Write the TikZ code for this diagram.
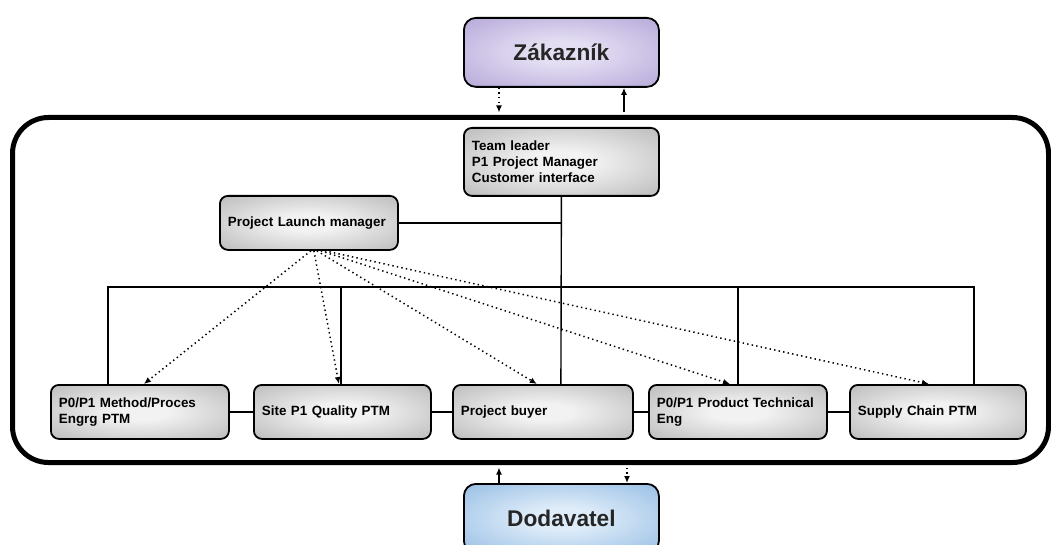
\documentclass[tikz,border=0pt]{standalone}
\usepackage{fontspec}
\setmainfont{Liberation Sans}
\usetikzlibrary{arrows.meta,calc}
\definecolor{gin}{HTML}{F2F2F2}
\definecolor{gout}{HTML}{A0A0A0}
\definecolor{gdark}{HTML}{808080}
\definecolor{pin}{HTML}{E4DEF3}
\definecolor{pout}{HTML}{9E8DCC}
\definecolor{pdark}{HTML}{8A77BE}
\definecolor{bin}{HTML}{DEECF9}
\definecolor{bout}{HTML}{74A7DA}
\definecolor{bdark}{HTML}{5A8FCB}
\pgfdeclareradialshading{grayshade}{\pgfpoint{0bp}{0bp}}{color(0bp)=(gin); color(8bp)=(gin); color(50bp)=(gout); color(75bp)=(gdark)}
\pgfdeclareradialshading{purpshade}{\pgfpoint{0bp}{0bp}}{color(0bp)=(pin); color(8bp)=(pin); color(50bp)=(pout); color(75bp)=(pdark)}
\pgfdeclareradialshading{blueshade}{\pgfpoint{0bp}{0bp}}{color(0bp)=(bin); color(8bp)=(bin); color(50bp)=(bout); color(75bp)=(bdark)}
\tikzset{
  gbox/.style={draw=black, line width=1.8pt, rounded corners=8pt, shading=grayshade,
    anchor=north west, inner xsep=8pt, inner ysep=0pt, align=left,
    font=\fontsize{13.4}{16}\selectfont\bfseries},
  bigbox/.style={draw=black, line width=1.8pt, rounded corners=12pt, anchor=north west,
    minimum width=195, minimum height=69, font=\fontsize{22.7}{26}\selectfont\bfseries, text=black!85},
  frame/.style={draw=black, line width=5pt, rounded corners=36pt, anchor=north west},
  conn/.style={draw=black, line width=1.4pt},
  dotarrow/.style={draw=black, line width=1.5pt, dash pattern=on 1.4pt off 3.2pt, -{Latex[length=7pt,width=6pt]}},
  solarrow/.style={draw=black, line width=1.4pt, -{Latex[length=7pt,width=6pt]}}
}
\begin{document}
\begin{tikzpicture}[x=1pt,y=-1pt]
\useasboundingbox (0,0) rectangle (1051,545);
\clip (0,0) rectangle (1051,545);
% outer frame
\node[frame, minimum width=1036, minimum height=345] (frame) at (10,115) {};
% customer and supplier
\node[bigbox, shading=purpshade] (zak) at (463,17) {Zákazník};
\node[bigbox, shading=blueshade] (dod) at (463,483) {Dodavatel};
% team leader
\node[gbox, minimum width=195, minimum height=68, text width=179] (tl) at (463,127)
  {Team leader\\P1 Project Manager\\Customer interface};
\node[gbox, minimum width=178, minimum height=54, text width=162] (plm) at (219,195)
  {Project Launch manager};
% bottom row
\node[gbox, minimum width=178, minimum height=54, text width=162] (b1) at (50,384)
  {P0/P1 Method/Proces\\Engrg PTM};
\node[gbox, minimum width=177, minimum height=54, text width=161] (b2) at (253,384)
  {Site P1 Quality PTM};
\node[gbox, minimum width=180, minimum height=54, text width=164] (b3) at (452,384)
  {Project buyer};
\node[gbox, minimum width=178, minimum height=54, text width=162] (b4) at (648,384)
  {P0/P1 Product Technical\\Eng};
\node[gbox, minimum width=176, minimum height=54, text width=160] (b5) at (849,384)
  {Supply Chain PTM};
% arrows between frame and customer/supplier
\coordinate (xa) at (499,0);
\coordinate (xb) at (624,0);
\coordinate (xc) at (627,0);
\draw[dotarrow] (zak.south -| xa) -- ([yshift=2.5pt]frame.north -| xa);
\draw[solarrow] ([yshift=2.5pt]frame.north -| xb) -- (zak.south -| xb);
\draw[solarrow] (dod.north -| xa) -- ([yshift=-2.5pt]frame.south -| xa);
\draw[dotarrow] ([yshift=-2.5pt]frame.south -| xc) -- (dod.north -| xc);
% horizontal links between bottom boxes
\draw[conn] (b1.east) -- (b2.west);
\draw[conn] (b2.east) -- (b3.west);
\draw[conn] (b3.east) -- (b4.west);
\draw[conn] (b4.east) -- (b5.west);
% team leader to project buyer, launch manager link
\coordinate (v3) at ([xshift=18pt]b3.north);
\draw[conn] (tl.south) -- (v3);
\draw[conn] (plm.east) -- (plm.east -| v3);
% bus
\coordinate (busy) at (0,287);
\coordinate (v1) at ([xshift=-32pt]b1.north);
\coordinate (v2) at ([xshift=-1.5pt]b2.north);
\coordinate (v4) at (b4.north);
\coordinate (v5) at ([xshift=36pt]b5.north);
\draw[conn] (v1) -- (v1 |- busy) -- (v5 |- busy) -- (v5);
\draw[conn] (v2 |- busy) -- (v2);
\draw[conn] (v4 |- busy) -- (v4);
% dotted arrows from launch manager
\draw[dotarrow] ([xshift=2pt]plm.south) -- ([xshift=4pt]b1.north);
\draw[dotarrow] ([xshift=5pt]plm.south) -- ([xshift=-3.5pt]b2.north);
\draw[dotarrow] ([xshift=8pt]plm.south) -- ([xshift=-6pt]b3.north);
\draw[dotarrow] ([xshift=12pt]plm.south) -- ([xshift=-8pt]b4.north);
\draw[dotarrow] ([xshift=16pt]plm.south) -- ([xshift=-9pt]b5.north);
\end{tikzpicture}
\end{document}
